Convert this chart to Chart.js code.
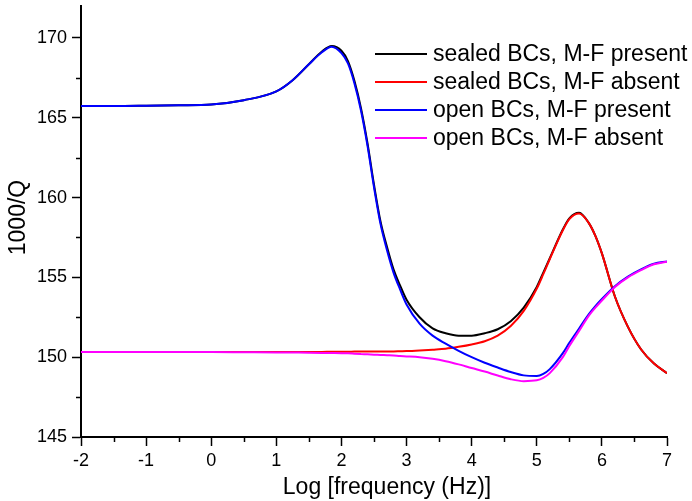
<!DOCTYPE html>
<html>
<head>
<meta charset="utf-8">
<title>1000/Q vs log frequency</title>
<script src="https://cdn.jsdelivr.net/npm/chart.js@4/dist/chart.umd.min.js"></script>
<style>
  html, body { margin: 0; padding: 0; background: #fff; }
  canvas { display: block; }
</style>
</head>
<body>
<canvas id="qChart" width="692" height="501"></canvas>
<script>
// log10 of frequency (Hz)
var logFreq = [-2, -1.5, -1, -0.5, 0, 0.5, 1, 1.25, 1.5, 1.7,
               1.85, 2.0, 2.1, 2.2, 2.3, 2.4, 2.5, 2.6, 2.7, 2.8,
               2.9, 3.0, 3.2, 3.4, 3.6, 3.8, 4.0, 4.2, 4.4, 4.6,
               4.8, 5.0, 5.1, 5.2, 5.4, 5.5, 5.65, 5.8, 5.9, 6.0,
               6.2, 6.4, 6.6, 6.8, 7.0];

// 1000/Q for each case
var sealedPresent = [165.73, 165.73, 165.75, 165.78, 165.83, 166.1, 166.65, 167.35, 168.35, 169.15,
                     169.5, 169.2, 168.55, 167.3, 165.6, 163.4, 160.8, 158.5, 156.9, 155.5,
                     154.5, 153.6, 152.5, 151.8, 151.5, 151.35, 151.35, 151.5, 151.75, 152.25,
                     153.1, 154.4, 155.3, 156.2, 158.0, 158.7, 159.05, 158.4, 157.6, 156.5,
                     153.8, 151.9, 150.5, 149.6, 149.0];
var sealedAbsent = [150.33, 150.33, 150.33, 150.33, 150.33, 150.33, 150.33, 150.33, 150.33, 150.33,
                    150.34, 150.34, 150.34, 150.35, 150.35, 150.35, 150.35, 150.35, 150.36, 150.36,
                    150.37, 150.38, 150.42, 150.47, 150.53, 150.65, 150.8, 151.0, 151.35, 151.95,
                    152.9, 154.3, 155.2, 156.15, 157.95, 158.65, 159.0, 158.4, 157.6, 156.5,
                    153.8, 151.9, 150.5, 149.6, 149.0];
var openPresent = [165.73, 165.73, 165.75, 165.78, 165.83, 166.1, 166.65, 167.35, 168.35, 169.1,
                   169.45, 169.05, 168.4, 167.15, 165.45, 163.25, 160.65, 158.35, 156.7, 155.3,
                   154.25, 153.3, 152.1, 151.35, 150.85, 150.4, 150.0, 149.65, 149.35, 149.07,
                   148.86, 148.82, 148.95, 149.25, 150.25, 150.9, 151.8, 152.7, 153.2, 153.65,
                   154.45, 155.05, 155.5, 155.85, 156.0];
var openAbsent = [150.33, 150.33, 150.33, 150.32, 150.32, 150.31, 150.3, 150.29, 150.28, 150.27,
                  150.26, 150.25, 150.24, 150.22, 150.2, 150.18, 150.16, 150.14, 150.12, 150.1,
                  150.07, 150.05, 150.0, 149.9, 149.75, 149.55, 149.32, 149.1, 148.85, 148.62,
                  148.5, 148.55, 148.7, 149.0, 150.0, 150.7, 151.65, 152.6, 153.1, 153.55,
                  154.4, 155.0, 155.45, 155.82, 155.98];

var seriesNames = ["sealed BCs, M-F present", "sealed BCs, M-F absent",
                   "open BCs, M-F present", "open BCs, M-F absent"];

var xTicks = [-2, -1, 0, 1, 2, 3, 4, 5, 6, 7];
var xMinorTicks = [-1.5, -0.5, 0.5, 1.5, 2.5, 3.5, 4.5, 5.5, 6.5];
var yTicks = [145, 150, 155, 160, 165, 170];
var yMinorTicks = [147.5, 152.5, 157.5, 162.5, 167.5];

var FONT = '"Liberation Sans", Arial, sans-serif';

function points(ys) {
    return logFreq.map(function (x, i) { return { x: x, y: ys[i] }; });
}

function line(label, ys, color, order) {
    return {
        label: label,
        data: points(ys),
        borderColor: color,
        backgroundColor: color,
        borderWidth: 2,
        pointRadius: 0,
        cubicInterpolationMode: 'monotone',
        fill: false,
        order: order
    };
}

// minor ticks, axis titles and the legend box inside the plot
var extras = {
    id: 'extras',
    afterDraw: function (chart) {
        var ctx = chart.ctx;
        var area = chart.chartArea;
        var xs = chart.scales.x, ys = chart.scales.y;

        ctx.save();
        ctx.strokeStyle = '#000';
        ctx.lineWidth = 1.5;
        xMinorTicks.forEach(function (v) {
            var px = Math.round(xs.getPixelForValue(v)) + 0.5;
            ctx.beginPath();
            ctx.moveTo(px, area.bottom);
            ctx.lineTo(px, area.bottom + 5);
            ctx.stroke();
        });
        yMinorTicks.forEach(function (v) {
            var py = Math.round(ys.getPixelForValue(v)) + 0.5;
            ctx.beginPath();
            ctx.moveTo(area.left - 5, py);
            ctx.lineTo(area.left, py);
            ctx.stroke();
        });

        ctx.fillStyle = '#000';
        ctx.font = '23px ' + FONT;
        ctx.textAlign = 'center';
        ctx.textBaseline = 'alphabetic';
        ctx.fillText('Log [frequency (Hz)]', (area.left + area.right) / 2 + 13, chart.height - 7);

        ctx.save();
        ctx.translate(25, (area.top + area.bottom) / 2 - 4);
        ctx.rotate(-Math.PI / 2);
        ctx.fillText('1000/Q', 0, 0);
        ctx.restore();

        ctx.textAlign = 'left';
        ctx.textBaseline = 'middle';
        chart.data.datasets.forEach(function (ds, i) {
            var y = area.top + 48 + 28 * i;
            ctx.strokeStyle = ds.borderColor;
            ctx.lineWidth = 2;
            ctx.beginPath();
            ctx.moveTo(area.right - 292, y);
            ctx.lineTo(area.right - 240, y);
            ctx.stroke();
            ctx.fillText(ds.label, area.right - 234, y + 1);
        });
        ctx.restore();
    }
};

new Chart(document.getElementById('qChart'), {
    type: 'line',
    data: {
        datasets: [
            line(seriesNames[0], sealedPresent, '#000000', 4),
            line(seriesNames[1], sealedAbsent, '#ff0000', 3),
            line(seriesNames[2], openPresent, '#0000ff', 2),
            line(seriesNames[3], openAbsent, '#ff00ff', 1)
        ]
    },
    options: {
        responsive: false,
        animation: false,
        layout: { padding: { top: 6, right: 25, left: 0, bottom: 0 } },
        plugins: {
            legend: { display: false },
            tooltip: { enabled: false }
        },
        scales: {
            x: {
                type: 'linear',
                min: -2,
                max: 7,
                afterBuildTicks: function (scale) {
                    scale.ticks = xTicks.map(function (v) { return { value: v }; });
                },
                afterFit: function (scale) {
                    scale.height = 64;
                    scale.paddingLeft = 0;
                    scale.paddingRight = 0;
                },
                ticks: {
                    color: '#000',
                    font: { family: FONT, size: 18 },
                    padding: 4,
                    maxRotation: 0,
                    autoSkip: false
                },
                grid: {
                    drawOnChartArea: false,
                    tickLength: 9,
                    tickColor: '#000',
                    tickWidth: 1.5
                },
                border: { display: true, color: '#000', width: 2 }
            },
            y: {
                type: 'linear',
                min: 145,
                max: 172,
                afterBuildTicks: function (scale) {
                    scale.ticks = yTicks.map(function (v) { return { value: v }; });
                },
                afterFit: function (scale) {
                    scale.width = 81;
                    scale.paddingTop = 0;
                    scale.paddingBottom = 0;
                },
                ticks: {
                    color: '#000',
                    font: { family: FONT, size: 18 },
                    padding: 5,
                    autoSkip: false
                },
                grid: {
                    drawOnChartArea: false,
                    tickLength: 9,
                    tickColor: '#000',
                    tickWidth: 1.5
                },
                border: { display: true, color: '#000', width: 2 }
            }
        }
    },
    plugins: [extras]
});
</script>
</body>
</html>
